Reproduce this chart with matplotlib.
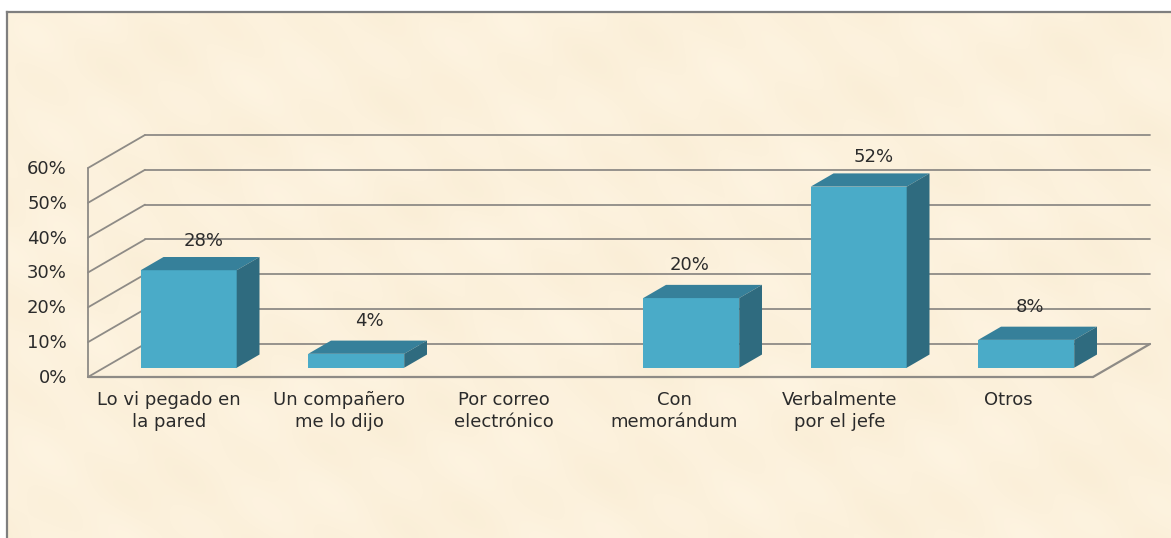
import numpy as np
import matplotlib
matplotlib.use('Agg')
import matplotlib.pyplot as plt
from matplotlib.patches import Polygon

categories = ['Lo vi pegado en\nla pared', 'Un compañero\nme lo dijo', 'Por correo\nelectrónico',
              'Con\nmemorándum', 'Verbalmente\npor el jefe', 'Otros']
values = [28, 4, 0, 20, 52, 8]
yticks = [0, 10, 20, 30, 40, 50, 60]

# oblique depth: one unit of depth in x (categories) and y (percent)
DX = 57 / 167.5
DY = 33 / 3.48
BAR_W = 0.573
D0, D1 = 0.28, 0.68

# hand placed label nudges, pixels from the front top of each bar
LABEL_NUDGE = [(15, 29), (13, 33), (0, 0), (-2, 33), (15, 30), (4, 33)]
# the category labels are not quite centred in the original
CAT_NUDGE = [-3, 0, -3, 0, -2, -1]

GRID = '#8e8b86'
FRONT = '#4aabc8'
TOP = '#36809a'
SIDE = '#2f6b7f'
TXT = '#2b2b2b'
FS = 13

W, H = 1171, 538
fig = plt.figure(figsize=(W / 100, H / 100), dpi=100, facecolor='white')

# paper background, a soft mottling
bg = fig.add_axes([7 / W, 0, (W - 7) / W, (H - 12) / H])
yy, xx = np.mgrid[0:H - 12, 0:W - 7]
tex = (np.sin(xx / 37 + np.sin(yy / 31)) + np.sin(yy / 17 + xx / 70) + np.sin((xx - yy) / 13 + 1.3)) / 3
base = np.array([252, 241, 220]) / 255
amp = np.array([1.5, 2.5, 4.5]) / 255
bg.imshow(base + tex[..., None] * amp, aspect='auto')
bg.set_xticks([])
bg.set_yticks([])
for s in ['right', 'bottom']:
    bg.spines[s].set_visible(False)
for s in ['left', 'top']:
    bg.spines[s].set_color('#7f7f7f')
    bg.spines[s].set_linewidth(1.6)

ax = fig.add_axes([88 / W, (H - 377) / H, 1005 / W, 209 / H])
ax.set_xlim(0, 6)
ax.set_ylim(0, 60)
ax.patch.set_alpha(0)
ax.axis('off')


def line(xs, ys, z=1, lw=1.3):
    ax.plot(xs, ys, color=GRID, lw=lw, zorder=z, clip_on=False, solid_capstyle='round')


# walls and floor
for t in yticks:
    line([0, DX], [t, t + DY])
    line([DX, 6 + DX], [t + DY, t + DY])
    ax.annotate('%d%%' % t, (0, t), xytext=(-21, -1), textcoords='offset pixels', ha='right', va='center',
                fontsize=FS, color=TXT, annotation_clip=False)
line([0, 0], [0, 60])
line([0, 6], [0, 0], lw=1.6)
line([6, 6 + DX], [0, DY], lw=1.6)

# bars
xpos = np.arange(len(values)) + 0.5
for c, v, nudge in zip(xpos, values, LABEL_NUDGE):
    if v == 0:
        continue
    x0 = c - BAR_W / 2 + D0 * DX + 1 / 167.5
    x1 = x0 + BAR_W
    y0 = D0 * DY
    d = (D1 - D0)
    ax.bar(x0 + BAR_W / 2, v, BAR_W, bottom=y0, color=FRONT, zorder=3, clip_on=False)
    ax.add_patch(Polygon([(x0, y0 + v), (x1, y0 + v), (x1 + d * DX, y0 + v + d * DY), (x0 + d * DX, y0 + v + d * DY)],
                         color=TOP, lw=0, zorder=3, clip_on=False))
    ax.add_patch(Polygon([(x1, y0), (x1 + d * DX, y0 + d * DY), (x1 + d * DX, y0 + v + d * DY), (x1, y0 + v)],
                         color=SIDE, lw=0, zorder=3, clip_on=False))
    ax.annotate('%d%%' % v, (x0 + BAR_W / 2, y0 + v), xytext=nudge, textcoords='offset pixels',
                ha='center', va='center', fontsize=FS, color=TXT, zorder=5)

# category labels
for c, lab, n in zip(xpos, categories, CAT_NUDGE):
    ax.annotate(lab, (c, 0), xytext=(n, -14), textcoords='offset pixels', ha='center', va='top',
                fontsize=FS, color=TXT, linespacing=1.3, annotation_clip=False)

fig.savefig('out.png', dpi=100)
